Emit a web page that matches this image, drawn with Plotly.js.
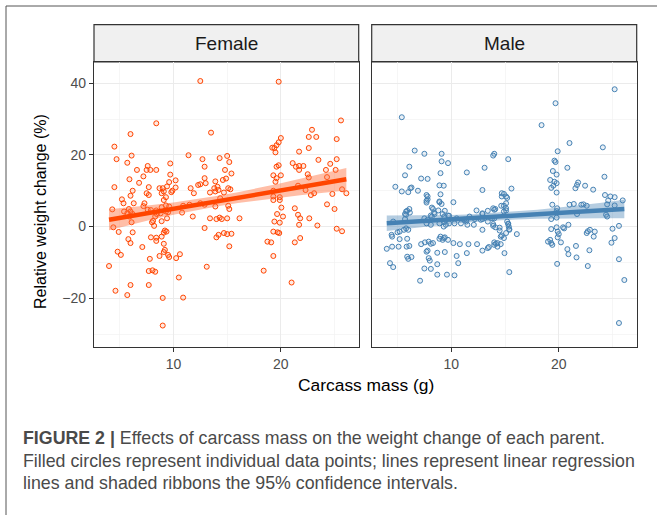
<!DOCTYPE html>
<html>
<head>
<meta charset="utf-8">
<script src="https://cdn.plot.ly/plotly-3.0.1.min.js"></script>
<style>
  html, body { margin: 0; padding: 0; background: #ffffff; }
  #chart { width: 657px; height: 515px; }
</style>
</head>
<body>
<div id="chart"></div>
<script>
// ---------- DATA ----------
const panels = ["Female", "Male"];

const femaleX = [12.5,19.8,8.4,13.5,6.0,4.5,25.6,22.9,22.6,23.3,25.2,20.0,19.8,19.6,19.2,19.4,19.5,21.7,22.6,11.4,
  12.7,14.3,15.0,15.2,6.1,4.7,5.7,9.7,7.6,12.9,14.8,15.4,6.6,7.85,7.5,8.4,5.9,7.2,6.8,9.7,
  10.2,9.6,4.5,6.2,6.0,7.5,7.7,7.7,8.7,9.0,9.1,9.4,10.2,9.8,11.6,12.3,13.0,12.9,13.9,14.1,
  13.8,14.2,13.4,14.9,14.6,15.1,15.3,11.9,19.6,19.8,20.0,19.3,19.6,19.5,21.1,21.4,21.7,22.1,21.7,23.5,
  24.6,25.2,24.2,25.1,22.5,22.6,24.3,21.6,22.3,22.8,23.1,24.8,25.7,26.1,19.3,19.9,19.3,5.2,12.5,8.9,
  9.9,4.3,5.35,5.4,5.85,5.7,5.9,6.2,4.4,4.9,6.2,5.8,6.0,4.8,5.1,7.1,7.3,7.2,7.6,7.9,
  8.4,8.1,8.0,8.3,8.45,8.8,9.3,9.6,9.5,8.9,9.2,9.1,9.35,8.9,8.4,7.9,8.7,9.1,9.5,9.6,
  7.8,10.25,10.6,12.9,14.0,14.3,14.5,15.0,14.0,14.2,14.7,15.0,4.0,4.6,5.7,6.0,7.7,7.7,8.05,8.3,
  9.0,9.0,10.9,10.5,9.2,9.1,8.4,13.1,15.4,15.2,16.15,18.4,21.0,18.75,19.1,19.3,19.3,19.7,19.85,19.4,
  19.9,19.65,20.05,20.2,19.3,19.9,21.3,21.3,21.8,21.7,21.6,21.8,22.65,23.4,24.3,25.0,25.2,25.7,10.8,11.8,
  10.9,11.5,6.0,6.3,6.1,8.2,8.9,9.1,9.3,9.3,9.4,13.4,13.9,14.35,15.1,15.2,12.5,12.9,13.9,14.7];
const femaleY = [40.6,40.4,28.8,26.2,25.8,22.3,29.6,27.0,25.0,25.0,24.4,24.7,23.5,22.7,22.0,21.9,20.7,20.9,21.9,19.9,
  18.8,19.1,19.7,18.0,19.8,18.8,17.8,17.6,16.9,16.7,15.8,14.8,15.8,15.8,15.8,15.8,13.2,14.0,12.2,14.5,
  12.9,12.4,11.0,10.0,8.6,9.3,11.0,8.8,10.7,10.7,9.8,11.2,10.9,9.6,10.7,11.6,12.1,13.5,12.6,11.1,
  10.7,10.2,9.5,13.4,13.0,10.7,10.4,9.3,16.7,17.1,14.3,14.3,13.5,12.5,17.7,16.7,16.9,16.9,15.8,18.6,
  17.5,18.8,15.8,15.8,14.6,13.7,13.8,11.4,10.2,8.8,9.3,9.1,10.4,9.3,10.0,8.2,8.4,7.6,11.8,9.3,
  10.0,4.8,6.5,4.2,4.9,3.7,2.8,3.5,-0.2,-1.5,-1.6,-3.5,-4.6,-7.0,-7.9,-5.7,6.5,5.7,4.7,4.6,
  4.5,1.6,1.2,2.8,3.5,3.7,4.2,5.6,4.0,1.5,-1.1,-1.7,-1.4,-2.8,-3.1,-3.0,-8.2,-7.1,-7.9,-8.5,
  -9.0,-8.8,-7.7,-0.4,2.1,2.5,2.1,2.3,-3.0,-2.3,-1.8,-2.1,-11.0,-17.9,-19.1,-16.3,-16.3,-12.4,-12.2,-12.6,
  -19.9,-27.6,-19.8,-14.2,-6.5,-4.8,-4.0,-11.2,-2.0,-5.5,2.3,-12.3,-15.6,-4.2,-4.4,-8.2,-1.4,-1.6,-1.8,1.4,
  1.1,3.5,5.3,2.8,7.4,7.4,5.1,-4.4,-3.2,0.5,3.3,2.3,2.3,0.3,6.2,4.9,-0.6,-1.3,3.9,2.8,
  5.8,6.1,4.2,6.5,1.2,0.2,5.4,7.4,8.2,5.9,2.3,2.3,5.6,7.9,5.8,4.9,6.5,6.1,9.8,9.5];

const maleX = [25.2,19.7,5.4,18.4,21.0,24.1,19.9,6.6,7.5,9.1,9.1,9.7,14.0,13.9,15.3,19.6,19.7,6.1,13.1,11.45,
  20.8,5.7,9.0,19.45,19.8,7.2,7.8,24.25,19.2,19.6,19.8,19.3,19.5,21.8,21.7,21.55,22.45,23.2,4.8,5.4,
  6.0,6.2,6.3,6.9,8.9,9.3,9.0,7.8,12.9,14.7,15.1,15.2,15.6,24.3,24.8,25.2,25.95,7.7,7.7,8.9,
  9.1,10.2,15.1,6.1,5.9,5.7,6.15,8.2,8.4,9.4,10.5,12.35,12.9,14.0,14.9,11.7,12.2,8.2,9.2,9.35,
  9.35,9.8,9.3,7.5,7.8,7.7,8.1,11.2,10.3,11.4,11.5,12.1,12.75,13.4,13.8,5.8,5.6,5.2,5.0,4.5,
  5.9,5.2,4.5,4.0,5.1,5.85,6.1,7.2,7.9,8.1,8.3,8.9,9.0,9.2,9.3,9.4,9.7,10.2,10.8,11.6,
  12.4,12.9,13.9,14.1,14.5,14.6,14.9,13.4,14.0,14.15,14.6,12.9,5.9,6.3,7.7,7.9,8.7,9.4,10.5,11.45,
  4.3,4.6,4.45,6.0,6.0,7.55,7.8,8.0,7.5,7.1,8.1,8.7,8.7,9.6,10.3,10.65,13.5,14.0,14.3,14.3,
  14.95,15.4,14.7,15.1,15.4,13.9,14.5,14.9,15.35,16.1,15.1,19.0,19.2,19.4,19.3,19.3,19.3,19.4,19.85,19.9,
  20.0,20.2,19.85,20.5,20.9,20.8,20.9,21.65,21.6,22.7,22.85,22.6,22.7,23.25,23.35,19.8,19.8,19.9,20.4,21.0,
  21.4,22.1,22.3,22.6,24.4,25.6,25.0,25.2,24.9,25.6,26.1,25.6,24.5,19.8,24.6,19.8,21.7,25.2,24.5,22.9,
  15.4,15.3,4.6,5.8,5.7,5.8,7.7,7.8,8.3,8.9,9.7,8.1,8.45,8.8,8.9,9.5,9.8,10.9,11.4,12.9,
  12.9,13.4,13.9,14.0,14.1,15.1,15.2,15.3,14.7,14.65,14.9];
const maleY = [38.3,34.4,30.5,28.3,23.3,22.1,21.0,21.2,20.3,20.3,18.2,17.7,20.3,19.8,18.8,18.4,18.0,16.7,16.4,15.1,
  16.4,14.3,14.9,15.5,14.5,13.4,13.3,13.9,13.0,12.5,12.1,10.8,11.4,12.3,11.6,10.7,11.4,10.3,11.1,9.8,
  9.6,10.7,10.9,10.0,11.5,11.4,9.0,8.4,10.2,9.3,8.4,8.0,10.6,8.8,8.4,8.2,7.3,7.2,6.7,7.0,
  6.3,6.8,6.5,4.9,4.4,3.5,3.9,5.3,3.9,4.4,2.3,4.5,3.5,4.7,4.2,2.8,2.1,2.8,3.5,2.8,
  1.4,3.0,0.0,2.3,1.9,0.9,0.5,1.9,0.9,1.4,0.5,0.5,1.9,1.4,2.3,-0.5,-0.9,-1.4,-1.6,-2.8,
  -3.4,-3.5,-5.6,-6.2,-5.6,-5.6,-5.4,-4.9,-4.2,-4.8,-4.6,-3.4,-2.8,-3.7,-3.2,-3.0,-3.7,-4.6,-4.9,-4.9,
  -4.9,-0.9,0.2,-0.2,-1.1,-2.8,-3.2,-6.0,-4.4,-4.8,-4.9,-6.7,-8.4,-8.5,-7.0,-8.8,-7.3,-7.1,-8.2,-7.4,
  -10.2,-11.3,-2.3,-0.9,-9.0,-4.4,-6.7,-9.5,-11.7,-15.1,-11.8,-13.4,-10.5,-13.4,-13.6,-10.2,-5.7,-5.1,-5.6,-4.6,
  -7.4,-12.7,-2.5,-1.8,-0.9,0.7,-0.3,5.8,0.0,-2.1,4.5,-4.2,-3.7,-5.1,-4.6,-0.7,2.1,6.1,5.1,-3.0,
  -2.1,-4.4,-10.4,-0.5,0.5,-6.3,-7.7,-8.6,-5.4,-11.0,-6.6,-1.8,-1.3,-2.8,-1.4,2.5,-0.2,-1.4,-0.2,6.1,
  6.3,6.1,6.2,5.8,3.3,0.2,-0.6,-3.2,-4.5,-9.1,-14.9,-26.9,6.2,9.5,7.3,4.3,3.5,5.9,2.8,-0.9,
  -0.7,0.8,1.4,3.3,2.1,4.2,8.8,7.6,4.9,6.8,3.1,3.1,3.5,4.5,0.9,0.5,0.9,0.9,1.9,2.1,
  3.7,4.4,5.1,2.3,4.9,5.1,1.4,0.7,8.4,5.8,9.1];

// fitted regression line and 95% ribbon, read at these carcass masses
const fitX = [4.0, 6, 8, 10, 12, 14, 16, 18, 20, 22, 24, 26.1];
const femaleFit = [1.9, 2.95, 4.0, 5.0, 6.0, 7.05, 8.1, 9.1, 10.1, 11.15, 12.2, 13.2];
const femaleLo  = [-1.0, 0.55, 2.0, 3.3, 4.5, 5.6, 6.6, 7.4, 8.1, 8.8, 9.45, 10.05];
const femaleHi  = [4.8, 5.35, 6.0, 6.7, 7.5, 8.5, 9.6, 10.8, 12.1, 13.5, 14.95, 16.35];
const maleFit = [0.95, 1.3, 1.65, 2.0, 2.35, 2.75, 3.1, 3.45, 3.8, 4.15, 4.5, 4.9];
const maleLo  = [-1.2, -0.5, 0.15, 0.75, 1.25, 1.7, 2.0, 2.2, 2.3, 2.35, 2.35, 2.3];
const maleHi  = [3.1, 3.1, 3.15, 3.25, 3.45, 3.8, 4.2, 4.7, 5.3, 5.95, 6.65, 7.5];

const xTitle = "Carcass mass (g)";
const yTitle = "Relative weight change (%)";
const captionLines = [
  "<b>FIGURE 2 |</b> Effects of carcass mass on the weight change of each parent.",
  "Filled circles represent individual data points; lines represent linear regression",
  "lines and shaded ribbons the 95% confidence intervals."
];

// ---------- STYLE ----------
const W = 657, H = 515;
const FONT = "Liberation Sans, Arial, Helvetica, sans-serif";
const orange = "#FF4500", blue = "#4682B4";
const px = v => v / W;
const py = v => 1 - v / H;

const xDom1 = [px(94), px(358.7)];
const xDom2 = [px(371.7), px(636.7)];
const yDom = [py(346.7), py(62)];
const stripTop = py(24.7);

function pointsTrace(x, y, col, fill, xa, ya) {
  return {x: x, y: y, xaxis: xa, yaxis: ya, type: "scatter", mode: "markers",
    marker: {size: 5, color: fill, line: {color: col, width: 1}},
    hoverinfo: "x+y", showlegend: false};
}
function ribbon(lo, hi, fill, xa, ya) {
  return [
    {x: fitX, y: lo, xaxis: xa, yaxis: ya, type: "scatter", mode: "lines",
     line: {width: 0, color: "rgba(0,0,0,0)"}, hoverinfo: "skip", showlegend: false},
    {x: fitX, y: hi, xaxis: xa, yaxis: ya, type: "scatter", mode: "lines",
     line: {width: 0, color: "rgba(0,0,0,0)"}, fill: "tonexty", fillcolor: fill,
     hoverinfo: "skip", showlegend: false}
  ];
}
function fitLine(y, col, xa, ya) {
  return {x: fitX, y: y, xaxis: xa, yaxis: ya, type: "scatter", mode: "lines",
    line: {color: col, width: 4.5}, hoverinfo: "skip", showlegend: false};
}

const data = [
  pointsTrace(femaleX, femaleY, orange, "rgba(255,69,0,0.12)", "x", "y"),
  ...ribbon(femaleLo, femaleHi, "rgba(255,110,60,0.45)", "x", "y"),
  fitLine(femaleFit, orange, "x", "y"),
  pointsTrace(maleX, maleY, blue, "rgba(70,130,180,0.12)", "x2", "y2"),
  ...ribbon(maleLo, maleHi, "rgba(70,130,180,0.40)", "x2", "y2"),
  fitLine(maleFit, blue, "x2", "y2")
];

function xAxis(dom, anchor) {
  return {domain: dom, anchor: anchor, range: [2.6, 27.25], tick0: 0, dtick: 10,
    ticks: "outside", ticklen: 4, tickwidth: 1, tickcolor: "#333",
    showline: true, mirror: true, linecolor: "#333", linewidth: 1.2,
    showgrid: true, gridcolor: "#ebebeb", gridwidth: 1.2, zeroline: false,
    minor: {dtick: 5, tick0: 0, showgrid: true, gridcolor: "#f2f2f2", gridwidth: 0.7, ticks: ""},
    tickfont: {family: FONT, size: 14, color: "#4d4d4d"}, fixedrange: true};
}
function yAxis(anchor, labels) {
  return {domain: yDom, anchor: anchor, range: [-33.5, 45.9], tick0: 0, dtick: 20,
    ticks: labels ? "outside" : "", ticklen: 4, tickwidth: 1, tickcolor: "#333",
    showticklabels: labels,
    showline: true, mirror: true, linecolor: "#333", linewidth: 1.2,
    showgrid: true, gridcolor: "#ebebeb", gridwidth: 1.2, zeroline: false,
    minor: {dtick: 10, tick0: 0, showgrid: true, gridcolor: "#f2f2f2", gridwidth: 0.7, ticks: ""},
    tickfont: {family: FONT, size: 14, color: "#4d4d4d"}, fixedrange: true};
}

const shapes = [
  {type: "rect", xref: "paper", yref: "paper", x0: xDom1[0], x1: xDom1[1], y0: yDom[1], y1: stripTop,
   fillcolor: "#f0f0f0", line: {color: "#333", width: 1.2}, layer: "below"},
  {type: "rect", xref: "paper", yref: "paper", x0: xDom2[0], x1: xDom2[1], y0: yDom[1], y1: stripTop,
   fillcolor: "#f0f0f0", line: {color: "#333", width: 1.2}, layer: "below"},
  {type: "line", xref: "paper", yref: "paper", x0: px(6), x1: 1.0, y0: py(6), y1: py(6),
   line: {color: "#555", width: 1}},
  {type: "line", xref: "paper", yref: "paper", x0: px(6), x1: px(6), y0: py(6), y1: 0,
   line: {color: "#555", width: 1}}
];

const annotations = [
  {text: panels[0], xref: "paper", yref: "paper", x: (xDom1[0] + xDom1[1]) / 2, y: (yDom[1] + stripTop) / 2,
   showarrow: false, xanchor: "center", yanchor: "middle", font: {family: FONT, size: 19, color: "#1a1a1a"}},
  {text: panels[1], xref: "paper", yref: "paper", x: (xDom2[0] + xDom2[1]) / 2, y: (yDom[1] + stripTop) / 2,
   showarrow: false, xanchor: "center", yanchor: "middle", font: {family: FONT, size: 19, color: "#1a1a1a"}},
  {text: xTitle, xref: "paper", yref: "paper", x: px(366), y: py(385), showarrow: false,
   xanchor: "center", yanchor: "middle", font: {family: FONT, size: 17.4, color: "#000"}},
  {text: yTitle, xref: "paper", yref: "paper", x: px(40), y: py(212), showarrow: false, textangle: -90,
   xanchor: "center", yanchor: "middle", font: {family: FONT, size: 16, color: "#000"}}
];
const capY = [437.7, 460.7, 483.3];
captionLines.forEach((t, i) => annotations.push({
  text: t, xref: "paper", yref: "paper", x: px(21), y: py(capY[i]), showarrow: false,
  xanchor: "left", yanchor: "middle", font: {family: FONT, size: 17.8, color: "#4a4a4a"}
}));

const layout = {
  width: W, height: H, margin: {l: 0, r: 0, t: 0, b: 0},
  paper_bgcolor: "#ffffff", plot_bgcolor: "#ffffff",
  font: {family: FONT},
  xaxis: xAxis(xDom1, "y"), xaxis2: xAxis(xDom2, "y2"),
  yaxis: yAxis("x", true), yaxis2: yAxis("x2", false),
  shapes: shapes, annotations: annotations, showlegend: false
};

Plotly.newPlot("chart", data, layout, {displayModeBar: false, staticPlot: true});
</script>
</body>
</html>
